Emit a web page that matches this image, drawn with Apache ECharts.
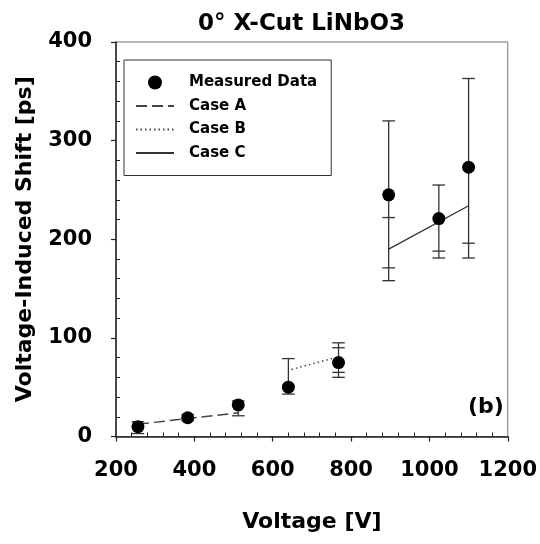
<!DOCTYPE html>
<html><head><meta charset="utf-8">
<script src="https://cdn.jsdelivr.net/npm/echarts@6/dist/echarts.min.js"></script>
<style>html,body{margin:0;padding:0;background:#fff}#c{width:540px;height:544px}</style>
</head><body><div id="c"></div>
<script>
// Measured data
const voltage = [256, 383, 512, 640, 768, 896, 1024, 1100];
const shift   = [10, 19, 32, 50, 75, 245, 221, 273];
// error bar caps (two sets where visible)
const errLow1  = [3, 16, 21, 43, 60, 158, 181, 181];
const errHigh1 = [15, 22, 36, 79, 95, 320, 255, 363];
const errLow2  = [null, null, null, null, 65, 171, 188, 196];
const errHigh2 = [null, null, null, null, 90, 222, null, null];
// model curves
const caseAx = [256, 512];   const caseAy = [12.5, 24];
const caseBx = [648, 760];   const caseBy = [68, 80];
const caseCx = [896, 1100];  const caseCy = [190, 234];
// axes
const xTicks = [200, 400, 600, 800, 1000, 1200];
const yTicks = [0, 100, 200, 300, 400];

const FONT = 'DejaVu Sans';
const pair = (xs, ys) => xs.map((x, i) => [x, ys[i]]);
const hideSym = {color: 'transparent', borderWidth: 0, opacity: 0};

const baseX = {
  type: 'value', min: xTicks[0], max: xTicks[xTicks.length - 1], interval: 200, position: 'bottom'
};
const baseY = {
  type: 'value', min: yTicks[0], max: yTicks[yTicks.length - 1], interval: 100, position: 'left'
};

const chart = echarts.init(document.getElementById('c'), null, {renderer: 'canvas'});
const option = {
  animation: false,
  backgroundColor: '#fff',
  title: {
    text: '0° X-Cut LiNbO3',
    left: 193, top: 8,
    textStyle: {fontFamily: FONT, fontWeight: 'bold', fontSize: 23, color: '#000'}
  },
  grid: {left: 116, right: 30.5, top: 42, bottom: 107.5, show: true, borderColor: '#777', borderWidth: 1},
  legend: {
    orient: 'vertical', left: 124, top: 60,
    padding: [15, 14, 15, 11], itemGap: 8.5,
    itemWidth: 38, itemHeight: 14,
    borderColor: '#333', borderWidth: 1,
    data: [
      {name: 'Measured Data'},
      {name: 'Case A', itemStyle: hideSym},
      {name: 'Case B', itemStyle: hideSym},
      {name: 'Case C', itemStyle: hideSym}
    ],
    textStyle: {fontFamily: FONT, fontWeight: 'bold', fontSize: 15, color: '#000', padding: [0, 0, 0, 10]}
  },
  xAxis: [
    Object.assign({}, baseX, {
      name: 'Voltage [V]', nameLocation: 'middle', nameGap: 75,
      nameTextStyle: {fontFamily: FONT, fontWeight: 'bold', fontSize: 22, color: '#000'},
      axisLine: {show: true, onZero: false, lineStyle: {color: '#222', width: 1.5}},
      axisTick: {show: true, inside: false, length: 5, lineStyle: {color: '#222', width: 1.2}},
      minorTick: {show: false},
      splitLine: {show: false},
      axisLabel: {fontFamily: FONT, fontWeight: 'bold', fontSize: 21, color: '#000', margin: 24,
                  formatter: v => String(v)}
    }),
    Object.assign({}, baseX, {
      axisLine: {show: false, onZero: false},
      axisTick: {show: false, inside: true},
      minorTick: {show: true, splitNumber: 5, length: 4, lineStyle: {color: '#222', width: 1}},
      splitLine: {show: false}, axisLabel: {show: false}
    })
  ],
  yAxis: [
    Object.assign({}, baseY, {
      name: 'Voltage-Induced Shift [ps]', nameLocation: 'middle', nameGap: 80,
      nameTextStyle: {fontFamily: FONT, fontWeight: 'bold', fontSize: 22, color: '#000'},
      axisLine: {show: true, onZero: false, lineStyle: {color: '#222', width: 1.5}},
      axisTick: {show: true, inside: false, length: 5, lineStyle: {color: '#222', width: 1.2}},
      minorTick: {show: false},
      splitLine: {show: false},
      axisLabel: {fontFamily: FONT, fontWeight: 'bold', fontSize: 21, color: '#000', margin: 24}
    }),
    Object.assign({}, baseY, {
      axisLine: {show: false, onZero: false},
      axisTick: {show: false, inside: true},
      minorTick: {show: true, splitNumber: 5, length: 4, lineStyle: {color: '#222', width: 1}},
      splitLine: {show: false}, axisLabel: {show: false}
    })
  ],
  graphic: [{
    type: 'text', left: 468, top: 396, z: 100,
    style: {text: '(b)', font: 'bold 22px "DejaVu Sans"', fill: '#000'}
  }],
  series: [
    {
      type: 'custom', name: 'errors', z: 2,
      data: voltage.map((v, i) => [v, errLow1[i], errHigh1[i]]),
      encode: {x: 0, y: [1, 2]},
      renderItem: function (params, api) {
        const i = params.dataIndex;
        const x = voltage[i];
        const caps = [errLow1[i], errHigh1[i], errLow2[i], errHigh2[i], shift[i]].filter(v => v !== null);
        const lo = Math.min.apply(null, caps), hi = Math.max.apply(null, caps);
        const pLo = api.coord([x, lo]), pHi = api.coord([x, hi]);
        const w = 6.3;
        const st = {stroke: '#333', lineWidth: 1.3};
        const children = [{type: 'line', shape: {x1: pLo[0], y1: pLo[1], x2: pHi[0], y2: pHi[1]}, style: st}];
        [errLow1[i], errHigh1[i], errLow2[i], errHigh2[i]].forEach(v => {
          if (v === null) return;
          const p = api.coord([x, v]);
          children.push({type: 'line', shape: {x1: p[0] - w, y1: p[1], x2: p[0] + w, y2: p[1]}, style: st});
        });
        return {type: 'group', children: children};
      }
    },
    {
      type: 'line', name: 'Case A', symbol: 'none', z: 3,
      data: pair(caseAx, caseAy),
      lineStyle: {color: '#444', width: 1.5, type: [11, 5]}, itemStyle: {color: '#444'}
    },
    {
      type: 'line', name: 'Case B', symbol: 'none', z: 3,
      data: pair(caseBx, caseBy),
      lineStyle: {color: '#444', width: 1.5, type: [1.5, 3]}, itemStyle: {color: '#444'}
    },
    {
      type: 'line', name: 'Case C', symbol: 'none', z: 3,
      data: pair(caseCx, caseCy),
      lineStyle: {color: '#333', width: 1.3, type: 'solid'}, itemStyle: {color: '#333'}
    },
    {
      type: 'scatter', name: 'Measured Data', z: 5,
      symbol: 'circle', symbolSize: 13,
      data: pair(voltage, shift),
      itemStyle: {color: '#000', opacity: 1}
    }
  ]
};
chart.setOption(option);
</script>
</body></html>
